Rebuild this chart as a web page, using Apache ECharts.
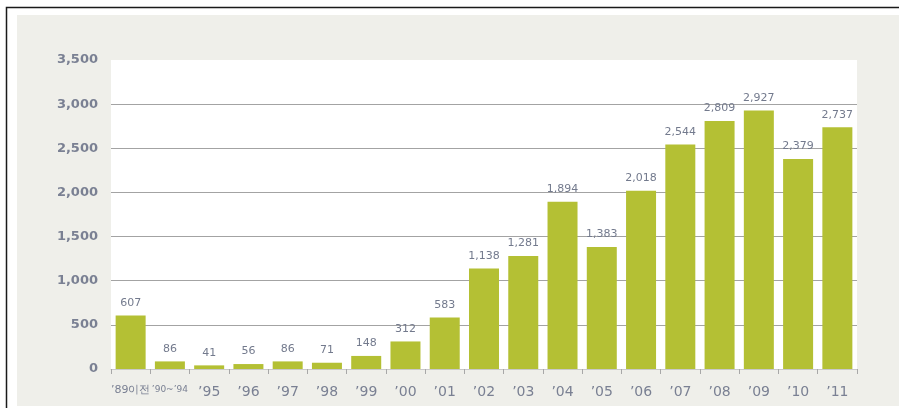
<!DOCTYPE html>
<html>
<head>
<meta charset="utf-8">
<script src="https://cdn.jsdelivr.net/npm/echarts@6/dist/echarts.min.js"></script>
<style>
  html, body { margin: 0; padding: 0; background: #ffffff; }
  #chart { width: 899px; height: 408px; }
</style>
</head>
<body>
<div id="chart"></div>
<script>
// Yearly counts, by period
const categories = ['’89이전', '’90~’94', '’95', '’96', '’97', '’98', '’99', '’00', '’01', '’02',
  '’03', '’04', '’05', '’06', '’07', '’08', '’09', '’10', '’11'];
const counts = [607, 86, 41, 56, 86, 71, 148, 312, 583, 1138,
  1281, 1894, 1383, 2018, 2544, 2809, 2927, 2379, 2737];
const yTicks = [0, 500, 1000, 1500, 2000, 2500, 3000, 3500];

const barColor = '#b4c034';
const textGrey = '#7a8093';

const chart = echarts.init(document.getElementById('chart'), null, { renderer: 'canvas' });

chart.setOption({
  animation: false,
  backgroundColor: '#ffffff',
  graphic: [
    { type: 'rect', z: -10, shape: { x: 17, y: 15, width: 882, height: 391 },
      style: { fill: '#efefea' } },
    { type: 'polyline', z: 10, shape: { points: [[6.5, 408], [6.5, 7.5], [899, 7.5]] },
      style: { stroke: '#1a1a1a', lineWidth: 1.5, fill: null } }
  ],
  grid: {
    left: 111, right: 42, top: 60, bottom: 39,
    show: true, backgroundColor: '#ffffff', borderWidth: 0
  },
  xAxis: {
    type: 'category',
    data: categories,
    axisLine: { lineStyle: { color: '#c9c9c9', width: 1 } },
    axisTick: { show: true, alignWithLabel: false, length: 5, lineStyle: { color: '#a8a8a8' } },
    axisLabel: {
      interval: 0,
      margin: 16,
      color: textGrey,
      fontFamily: 'DejaVu Sans',
      fontSize: 14,
      formatter: function (v) {
        if (v === categories[0]) return '{a|' + v + '}';
        if (v === categories[1]) return '{b|' + v + '}';
        return v;
      },
      rich: {
        a: { fontSize: 11, color: textGrey, fontFamily: 'DejaVu Sans' },
        b: { fontSize: 9, color: textGrey, fontFamily: 'DejaVu Sans' }
      }
    }
  },
  yAxis: {
    type: 'value',
    min: yTicks[0],
    max: yTicks[yTicks.length - 1],
    interval: 500,
    axisLine: { show: false },
    axisTick: { show: false },
    axisLabel: {
      margin: 13,
      color: textGrey,
      fontFamily: 'DejaVu Sans',
      fontWeight: 'bold',
      fontSize: 13,
      formatter: function (v) { return v.toLocaleString('en-US'); }
    },
    splitLine: {
      show: true,
      showMinLine: false,
      showMaxLine: false,
      lineStyle: { color: '#a3a3a3', width: 1 }
    }
  },
  series: [{
    type: 'bar',
    data: counts,
    barWidth: 30,
    itemStyle: { color: barColor },
    label: {
      show: true,
      position: 'top',
      distance: 7,
      color: '#737a8d',
      fontFamily: 'DejaVu Sans',
      fontSize: 11,
      formatter: function (p) { return p.value.toLocaleString('en-US'); }
    }
  }]
});
</script>
</body>
</html>
